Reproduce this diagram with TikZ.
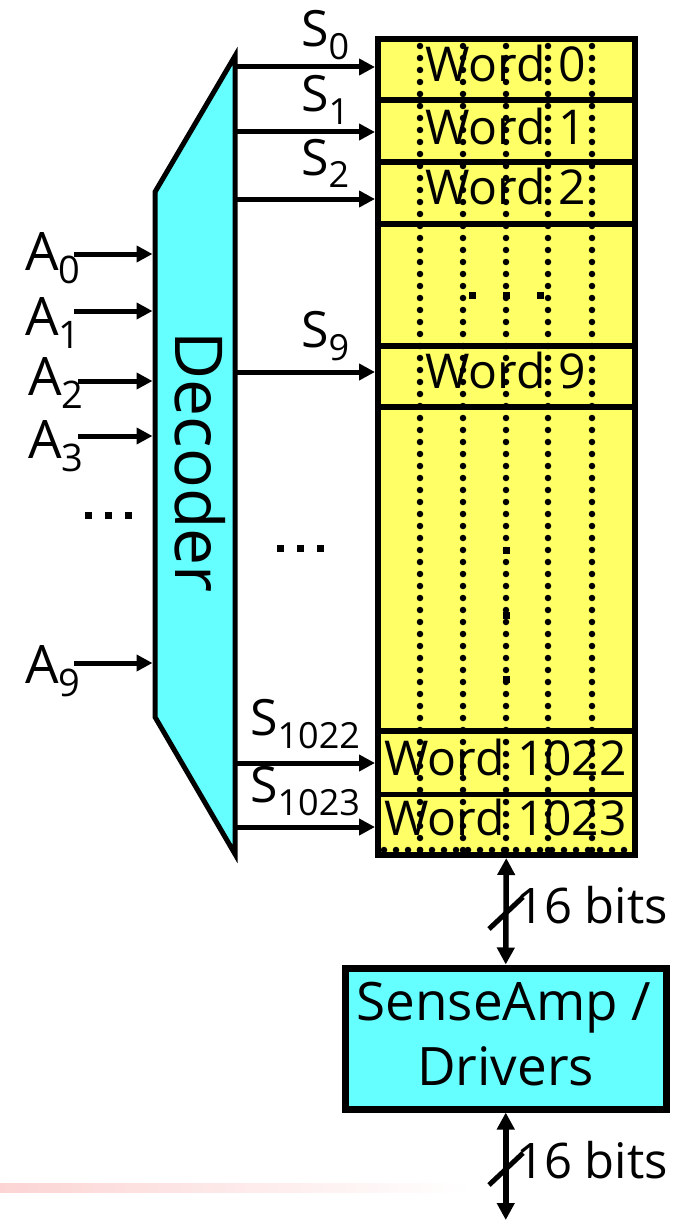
\documentclass[tikz,border=0pt]{standalone}
\usepackage{fontspec}
\setmainfont{Open Sans}
\usetikzlibrary{arrows.meta}
\definecolor{memyellow}{HTML}{FFFF66}
\definecolor{deccyan}{HTML}{66FFFF}
\definecolor{pinkline}{RGB}{252,212,212}
\newcommand\sublab[4]{{\fontsize{#3}{#3}\selectfont #1}\raisebox{-13pt}{\fontsize{#4}{#4}\selectfont #2}}
\begin{document}
\begin{tikzpicture}[x=1pt,y=-1pt,
  arr/.style={line width=5pt,-{Triangle[length=16pt,width=16pt]}},
  bus/.style={line width=5.5pt,{Triangle[length=17pt,width=17pt]}-{Triangle[length=17pt,width=17pt]}},
  divider/.style={line width=5.5pt},
  dotcol/.style={line width=6.5pt,line cap=round,dash pattern=on 0pt off 12pt},
  wordtxt/.style={anchor=base,inner sep=0pt,font=\fontsize{48}{48}\selectfont},
  slab/.style={anchor=base west,inner sep=0pt},
  sq/.style={fill=black,minimum size=7pt,inner sep=0pt},
  bitslbl/.style={anchor=base west,inner sep=0pt,font=\fontsize{49}{49}\selectfont},
]
\useasboundingbox (0,0) rectangle (691,1220);
% pink slide rule
\shade[left color=pinkline,right color=white] (0,1183) rectangle (470,1192);

% decoder
\draw[line width=5pt,fill=deccyan] (155,192) -- (235,56) -- (235,854) -- (155,717) -- cycle;
\coordinate (decL) at (152.5,0);
\node[rotate=-90,anchor=base,inner sep=0pt,font=\fontsize{66}{66}\selectfont] (dectxt) at (175,462) {Decoder};

% memory array
\node[draw,line width=6pt,fill=memyellow,minimum width=256.5pt,minimum height=815.5pt,inner sep=0pt] (mem) at (506.25,447.25) {};
\foreach \y in {100,162,224,346,407,731,794.5} \draw[divider] (378,\y) -- (634.5,\y);

\node[wordtxt] (w0) at (505.5,82) {Word 0};
\node[wordtxt] (w1) at (505.5,145) {Word 1};
\node[wordtxt] (w2) at (505.5,204) {Word 2};
\node[wordtxt] (w9) at (505.5,388) {Word 9};
\node[wordtxt] (w1022) at (505.5,775) {Word 1022};
\node[wordtxt] (w1023) at (505.5,835) {Word 1023};

\foreach \x in {420,463,506,548,592} \draw[dotcol] (\x,46) -- (\x,850);
\draw[dotcol] (384,850) -- (630,850);

% ellipses
\foreach \x in {472,506,540} \node[sq] (mh\x) at (\x,295) {};
\foreach \y in {550,615,679} \node[sq] (mv\y) at (506,\y) {};
\foreach \x in {88,108,128} \node[sq] (el\x) at (\x,515) {};
\foreach \x in {280,300,320} \node[sq] (em\x) at (\x,548) {};

% select lines
\foreach \n/\y in {0/67,1/132,2/199,9/372,1022/763,1023/827} {
  \coordinate (s\n) at (235,\y);
  \draw[arr] (s\n) -- (s\n -| mem.west);
}
\node[slab] (ls0) at (301,47) {\sublab{S}{0}{50}{36}};
\node[slab] (ls1) at (301,112) {\sublab{S}{1}{50}{36}};
\node[slab] (ls2) at (301,175) {\sublab{S}{2}{50}{36}};
\node[slab] (ls9) at (301,347) {\sublab{S}{9}{50}{36}};
\node[slab] (ls1022) at (250,735) {\sublab{S}{1022}{50}{36}};
\node[slab] (ls1023) at (250,802) {\sublab{S}{1023}{50}{36}};

% address lines
\foreach \n/\x/\y in {0/74/254,1/74/311,2/78/381,3/78/436,9/74/663} {
  \coordinate (a\n) at (\x,\y);
  \draw[arr] (a\n) -- (a\n -| decL);
}
\node[slab] (la0) at (25,270) {\sublab{A}{0}{53}{38}};
\node[slab] (la1) at (25,335) {\sublab{A}{1}{53}{38}};
\node[slab] (la2) at (28,395) {\sublab{A}{2}{53}{38}};
\node[slab] (la3) at (28,458) {\sublab{A}{3}{53}{38}};
\node[slab] (la9) at (25,683) {\sublab{A}{9}{53}{38}};

% sense amp
\node[draw,line width=7pt,fill=deccyan,minimum width=320.5pt,minimum height=141pt,inner sep=0pt] (sa) at (505.75,1038.5) {};
\node[anchor=base,inner sep=0pt,font=\fontsize{53}{53}\selectfont] (sa1) at (504,1020) {SenseAmp /};
\node[anchor=base,inner sep=0pt,font=\fontsize{53}{53}\selectfont] (sa2) at (505.5,1085) {Drivers};

% buses
\coordinate (busend) at (505.75,1220);
\draw[bus] (mem.south) -- (sa.north);
\draw[bus] (sa.south) -- (busend);
\coordinate (m1) at (506,913);
\coordinate (m2) at (506,1169);
\draw[line width=5pt] ([shift={(-17,16)}]m1) -- ([shift={(17,-16)}]m1);
\draw[line width=5pt] ([shift={(-17,16)}]m2) -- ([shift={(17,-16)}]m2);
\node[bitslbl] (b1) at (516,923) {16 bits};
\node[bitslbl] (b2) at (516,1178) {16 bits};
\end{tikzpicture}
\end{document}
